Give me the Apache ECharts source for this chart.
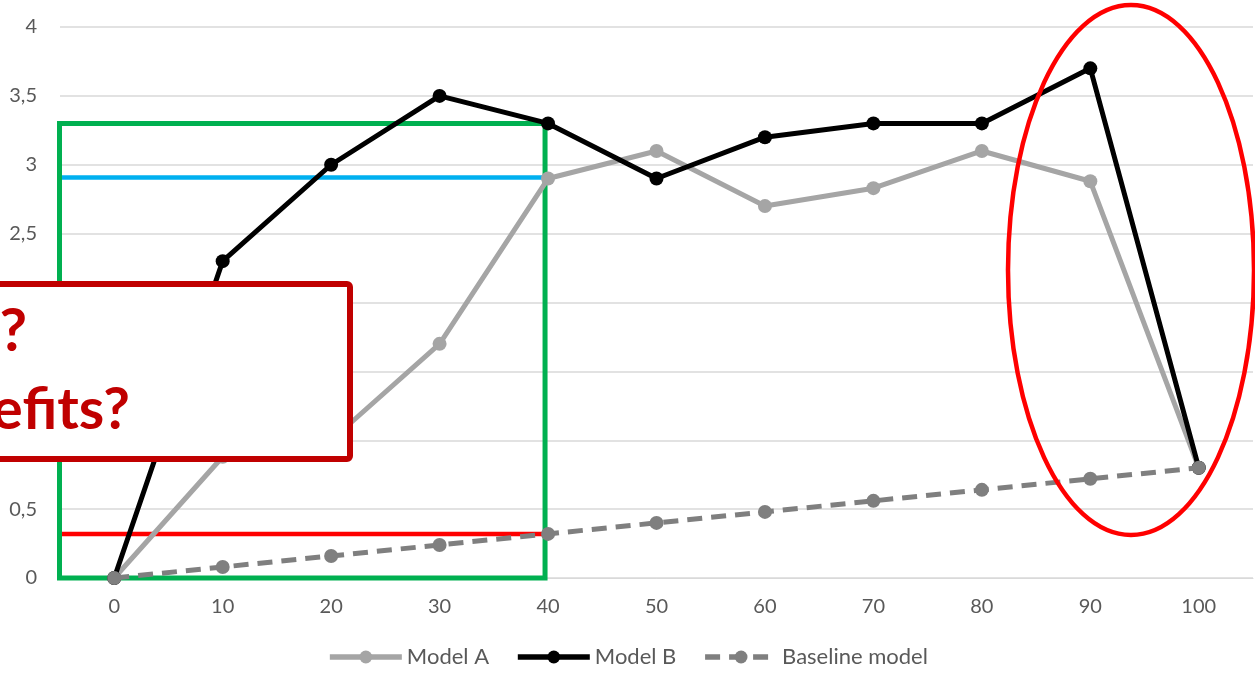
<!DOCTYPE html>
<html>
<head>
<meta charset="utf-8">
<script src="https://cdn.jsdelivr.net/npm/echarts@6/dist/echarts.min.js"></script>
<style>
  html, body { margin: 0; padding: 0; background: #ffffff; }
  #chart { width: 1255px; height: 677px; }
</style>
</head>
<body>
<div id="chart"></div>
<script>
// Categories on the horizontal axis
const categories = ['0', '10', '20', '30', '40', '50', '60', '70', '80', '90', '100'];

// Series values
const modelA = [0, 0.88, 1.0, 1.7, 2.9, 3.1, 2.7, 2.83, 3.1, 2.88, 0.8];
const modelB = [0, 2.3, 3.0, 3.5, 3.3, 2.9, 3.2, 3.3, 3.3, 3.7, 0.8];
const baseline = [0, 0.08, 0.16, 0.24, 0.32, 0.4, 0.48, 0.56, 0.64, 0.72, 0.8];

// Callout text (left part runs past the chart edge)
const calloutLines = ['?', 'efits?'];

const FONT = 'Lato, "Open Sans", sans-serif';
const TEXT_COLOR = '#595959';
const GRID_COLOR = '#d9d9d9';

const chart = echarts.init(document.getElementById('chart'), null, { renderer: 'canvas' });

chart.setOption({
  animation: false,
  backgroundColor: '#ffffff',
  grid: { left: 60, right: 2, top: 27, bottom: 99, containLabel: false },
  legend: {
    bottom: 4,
    left: 'center',
    itemWidth: 72,
    itemHeight: 16,
    itemGap: 26,
    textStyle: { color: TEXT_COLOR, fontSize: 22, fontFamily: FONT },
    lineStyle: { width: 5.5 },
    data: ['Model A', 'Model B', 'Baseline model']
  },
  xAxis: {
    type: 'category',
    data: categories,
    boundaryGap: true,
    axisTick: { show: false },
    axisLine: { lineStyle: { color: GRID_COLOR, width: 1 } },
    axisLabel: { color: TEXT_COLOR, fontSize: 20, fontFamily: FONT, margin: 19 }
  },
  yAxis: {
    type: 'value',
    min: 0,
    max: 4,
    interval: 0.5,
    axisLine: { show: false },
    axisTick: { show: false },
    splitLine: { lineStyle: { color: GRID_COLOR, width: 1.5 } },
    axisLabel: {
      color: TEXT_COLOR, fontSize: 20, fontFamily: FONT, margin: 23,
      formatter: v => String(v).replace('.', ',')
    }
  },
  series: [
    {
      name: 'Model A', type: 'line', data: modelA, z: 3,
      symbol: 'circle', symbolSize: 14,
      itemStyle: { color: '#a5a5a5' },
      lineStyle: { color: '#a5a5a5', width: 5 }
    },
    {
      name: 'Model B', type: 'line', data: modelB, z: 4,
      symbol: 'circle', symbolSize: 14,
      itemStyle: { color: '#000000' },
      lineStyle: { color: '#000000', width: 5 }
    },
    {
      name: 'Baseline model', type: 'line', data: baseline, z: 5,
      symbol: 'circle', symbolSize: 14,
      itemStyle: { color: '#7f7f7f' },
      lineStyle: { color: '#7f7f7f', width: 5, type: [15, 9] }
    }
  ]
});

// Annotation overlay: highlighted range, reference lines, circled drop and callout box
function drawAnnotations() {
  const px = (i, v) => chart.convertToPixel({ gridIndex: 0 }, [i, v]);
  const gridLeft = 60;
  const p0 = px(0, 0);
  const p40B = px(4, modelB[4]);
  const p40A = px(4, modelA[4]);
  const p40Base = px(4, baseline[4]);
  const rightEdge = p40B[0] - 3;
  const leftEdge = gridLeft - 0.5;

  chart.setOption({
    graphic: [
      {
        type: 'rect', z: 1,
        shape: { x: leftEdge, y: p40B[1], width: rightEdge - leftEdge, height: p0[1] - p40B[1] },
        style: { fill: 'none', stroke: '#00b050', lineWidth: 5 }
      },
      {
        type: 'line', z: 1,
        shape: { x1: leftEdge + 2.5, y1: p40A[1] - 1, x2: rightEdge - 2.5, y2: p40A[1] - 1 },
        style: { stroke: '#00b0f0', lineWidth: 4.5 }
      },
      {
        type: 'line', z: 1,
        shape: { x1: leftEdge + 2.5, y1: p40Base[1], x2: rightEdge - 2.5, y2: p40Base[1] },
        style: { stroke: '#ff0000', lineWidth: 4.5 }
      },
      {
        type: 'ellipse', z: 10,
        shape: { cx: 1131, cy: 270, rx: 123, ry: 265 },
        style: { fill: 'none', stroke: '#ff0000', lineWidth: 4.5 }
      },
      {
        type: 'rect', z: 20,
        shape: { x: -20, y: 284, width: 370, height: 175, r: 3 },
        style: { fill: '#ffffff', stroke: '#c00000', lineWidth: 6 }
      },
      {
        type: 'text', z: 21,
        style: {
          text: calloutLines[0], x: 27, y: 332,
          align: 'right', verticalAlign: 'middle',
          font: 'bold 60px ' + FONT, fill: '#c00000'
        }
      },
      {
        type: 'text', z: 21,
        style: {
          text: calloutLines[1], x: 130, y: 410,
          align: 'right', verticalAlign: 'middle',
          font: 'bold 58px ' + FONT, fill: '#c00000'
        }
      }
    ]
  });
}
drawAnnotations();
</script>
</body>
</html>
